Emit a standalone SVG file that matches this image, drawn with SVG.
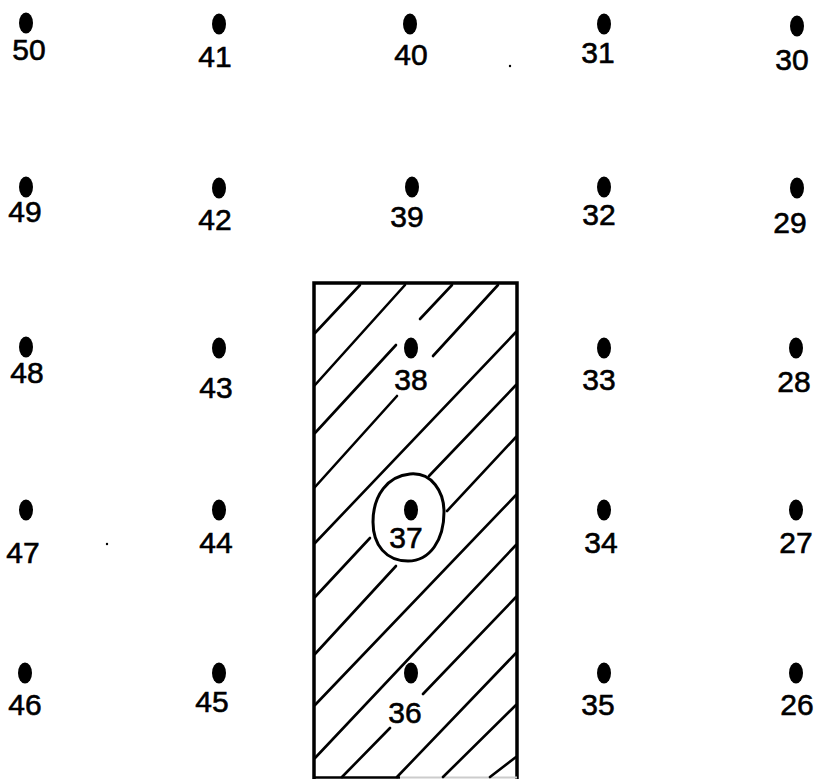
<svg xmlns="http://www.w3.org/2000/svg" width="822" height="779" viewBox="0 0 822 779">
<style>
.dot{fill:#000}
.lbl{font-family:"Liberation Sans",Arial,sans-serif;font-size:30px;fill:#000;text-anchor:middle;stroke:#000;stroke-width:0.6}
.edge{stroke:#000;stroke-width:3.5;fill:none;stroke-linecap:square}
.hatch{stroke:#000;stroke-width:2.6;fill:none;stroke-linecap:round}
</style>
<rect width="822" height="779" fill="#fff"/>
<g id="area">
<path class="edge" d="M314,778 L314,283 L517,283 L517,778"/>
<line x1="314" y1="777.5" x2="400" y2="777.5" stroke="#000" stroke-width="2.5"/>
<line x1="400" y1="777.5" x2="517" y2="777.5" stroke="#ccc" stroke-width="2"/>
<g class="hatch">
<line x1="360" y1="285" x2="315" y2="333"/>
<line x1="405" y1="285" x2="315" y2="385"/>
<line x1="452" y1="285" x2="420" y2="319"/>
<line x1="396" y1="345" x2="315" y2="433"/>
<line x1="498" y1="285" x2="433" y2="356"/>
<line x1="397" y1="396" x2="315" y2="487"/>
<line x1="516" y1="332" x2="315" y2="543"/>
<line x1="516" y1="385" x2="429" y2="476"/>
<line x1="370" y1="538" x2="315" y2="597"/>
<line x1="516" y1="437" x2="447" y2="511"/>
<line x1="396" y1="566" x2="315" y2="654"/>
<line x1="516" y1="495" x2="315" y2="705"/>
<line x1="516" y1="545" x2="315" y2="758"/>
<line x1="516" y1="597" x2="423" y2="694"/>
<line x1="390" y1="728" x2="342" y2="777"/>
<line x1="516" y1="653" x2="397" y2="777"/>
<line x1="516" y1="705" x2="443" y2="777"/>
<line x1="516" y1="757" x2="490" y2="777"/>
</g>
</g>
<path id="ring37" d="M410,474 C432,472 444,492 444,512 C444,540 430,561 408,561 C386,561 373,545 373,522 C373,495 388,476 410,474 Z" fill="none" stroke="#000" stroke-width="3"/>
<g id="n50"><ellipse class="dot" cx="26" cy="23" rx="7" ry="10.5"/><text class="lbl" x="29" y="60">50</text></g>
<g id="n41"><ellipse class="dot" cx="219" cy="24" rx="7" ry="10.5"/><text class="lbl" x="215" y="67">41</text></g>
<g id="n40"><ellipse class="dot" cx="410" cy="24" rx="7" ry="10.5"/><text class="lbl" x="411" y="65">40</text></g>
<g id="n31"><ellipse class="dot" cx="604" cy="24" rx="7" ry="10.5"/><text class="lbl" x="598" y="63">31</text></g>
<g id="n30"><ellipse class="dot" cx="797" cy="26" rx="7" ry="10.5"/><text class="lbl" x="792" y="70">30</text></g>
<g id="n49"><ellipse class="dot" cx="26" cy="187" rx="7" ry="10.5"/><text class="lbl" x="25" y="222">49</text></g>
<g id="n42"><ellipse class="dot" cx="219" cy="188" rx="7" ry="10.5"/><text class="lbl" x="215" y="230">42</text></g>
<g id="n39"><ellipse class="dot" cx="412" cy="187" rx="7" ry="10.5"/><text class="lbl" x="407" y="227">39</text></g>
<g id="n32"><ellipse class="dot" cx="604" cy="187" rx="7" ry="10.5"/><text class="lbl" x="599" y="225">32</text></g>
<g id="n29"><ellipse class="dot" cx="797" cy="188" rx="7" ry="10.5"/><text class="lbl" x="790" y="233">29</text></g>
<g id="n48"><ellipse class="dot" cx="26" cy="347" rx="7" ry="10.5"/><text class="lbl" x="27" y="383">48</text></g>
<g id="n43"><ellipse class="dot" cx="219" cy="348" rx="7" ry="10.5"/><text class="lbl" x="216" y="398">43</text></g>
<g id="n38"><ellipse class="dot" cx="411" cy="348" rx="7" ry="10.5"/><text class="lbl" x="411" y="390">38</text></g>
<g id="n33"><ellipse class="dot" cx="604" cy="348" rx="7" ry="10.5"/><text class="lbl" x="599" y="390">33</text></g>
<g id="n28"><ellipse class="dot" cx="796" cy="348" rx="7" ry="10.5"/><text class="lbl" x="794" y="392">28</text></g>
<g id="n47"><ellipse class="dot" cx="26" cy="510" rx="7" ry="10.5"/><text class="lbl" x="23" y="563">47</text></g>
<g id="n44"><ellipse class="dot" cx="219" cy="510" rx="7" ry="10.5"/><text class="lbl" x="216" y="553">44</text></g>
<g id="n37"><ellipse class="dot" cx="411" cy="510" rx="7" ry="10.5"/><text class="lbl" x="406" y="548">37</text></g>
<g id="n34"><ellipse class="dot" cx="604" cy="510" rx="7" ry="10.5"/><text class="lbl" x="601" y="553">34</text></g>
<g id="n27"><ellipse class="dot" cx="796" cy="510" rx="7" ry="10.5"/><text class="lbl" x="796" y="553">27</text></g>
<g id="n46"><ellipse class="dot" cx="25" cy="673" rx="7" ry="10.5"/><text class="lbl" x="25" y="715">46</text></g>
<g id="n45"><ellipse class="dot" cx="219" cy="673" rx="7" ry="10.5"/><text class="lbl" x="212" y="712">45</text></g>
<g id="n36"><ellipse class="dot" cx="411" cy="673" rx="7" ry="10.5"/><text class="lbl" x="405" y="723">36</text></g>
<g id="n35"><ellipse class="dot" cx="604" cy="673" rx="7" ry="10.5"/><text class="lbl" x="598" y="715">35</text></g>
<g id="n26"><ellipse class="dot" cx="796" cy="673" rx="7" ry="10.5"/><text class="lbl" x="797" y="715">26</text></g>
<g id="specks" fill="#000"><circle cx="510" cy="66" r="1.2"/><circle cx="107" cy="544" r="1.2"/></g>
</svg>
